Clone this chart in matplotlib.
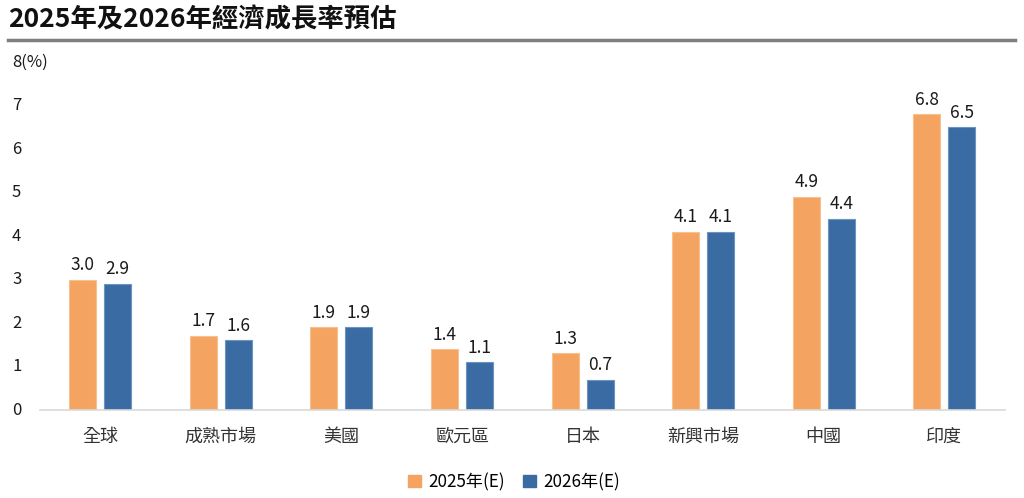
import numpy as np
import matplotlib
matplotlib.use("Agg")
import matplotlib.pyplot as plt
from matplotlib.lines import Line2D

plt.rcParams['font.family'] = ['Noto Sans CJK TC', 'DejaVu Sans']

regions = ['全球', '成熟市場', '美國', '歐元區', '日本', '新興市場', '中國', '印度']
growth_2025 = [3.0, 1.7, 1.9, 1.4, 1.3, 4.1, 4.9, 6.8]
growth_2026 = [2.9, 1.6, 1.9, 1.1, 0.7, 4.1, 4.4, 6.5]
series_names = ['2025年(E)', '2026年(E)']
yticks = [0, 1, 2, 3, 4, 5, 6, 7, 8]
ytick_labels = ['0', '1', '2', '3', '4', '5', '6', '7', '8(%)']

orange = '#F4A460'
blue = '#3A6BA3'

fig = plt.figure(figsize=(10.24, 4.98), dpi=100)
ax = fig.add_axes([0.039, 0.1767, 0.942, 0.6988])

x = np.arange(len(regions))
w = 0.224
off = 0.145
b1 = ax.bar(x - off, growth_2025, w, color=orange, edgecolor='#F7C08F', linewidth=0.8)
b2 = ax.bar(x + off, growth_2026, w, color=blue, edgecolor='#6D93C0', linewidth=0.8)

for bars, vals in ((b1, growth_2025), (b2, growth_2026)):
    for r, v in zip(bars, vals):
        ax.annotate(f'{v:.1f}', (r.get_x() + r.get_width() / 2, v),
                    xytext=(0, 4), textcoords='offset points',
                    ha='center', va='bottom', fontsize=12.5, color='#1a1a1a')

ax.set_xlim(-0.5, len(regions) - 0.5)
ax.set_ylim(0, 8)
ax.set_xticks(x)
ax.set_xticklabels(regions, fontsize=13, color='#333333')
ax.tick_params(axis='x', length=0, pad=13)
ax.set_yticks([])
for s in ['top', 'right', 'left']:
    ax.spines[s].set_visible(False)
ax.spines['bottom'].set_color('#d9d9d9')
ax.spines['bottom'].set_linewidth(1.2)

# y labels, left aligned so "8(%)" lines up with the other digits
trans = matplotlib.transforms.blended_transform_factory(fig.transFigure, ax.transData)
for t, lab in zip(yticks, ytick_labels):
    ax.text(12 / 1024, t, lab, transform=trans, ha='left', va='center',
            fontsize=12, color='#1a1a1a')

# title + rule
fig.text(8 / 1024, 1 - 20 / 498, '2025年及2026年經濟成長率預估', ha='left', va='center',
         fontsize=19, fontweight='bold', color='#111111')
fig.add_artist(Line2D([8 / 1024, 1015 / 1024], [1 - 40 / 498, 1 - 40 / 498],
                      transform=fig.transFigure, color='#7f7f7f', linewidth=2.5))

handles = [plt.Rectangle((0, 0), 1, 1, color=orange), plt.Rectangle((0, 0), 1, 1, color=blue)]
fig.legend(handles, series_names, loc='center', bbox_to_anchor=(514 / 1024, 1 - 482 / 498),
           ncol=2, frameon=False, fontsize=12.3, handlelength=0.75, handleheight=0.75,
           handletextpad=0.4, columnspacing=1.1)

fig.savefig('out.png', dpi=100)
